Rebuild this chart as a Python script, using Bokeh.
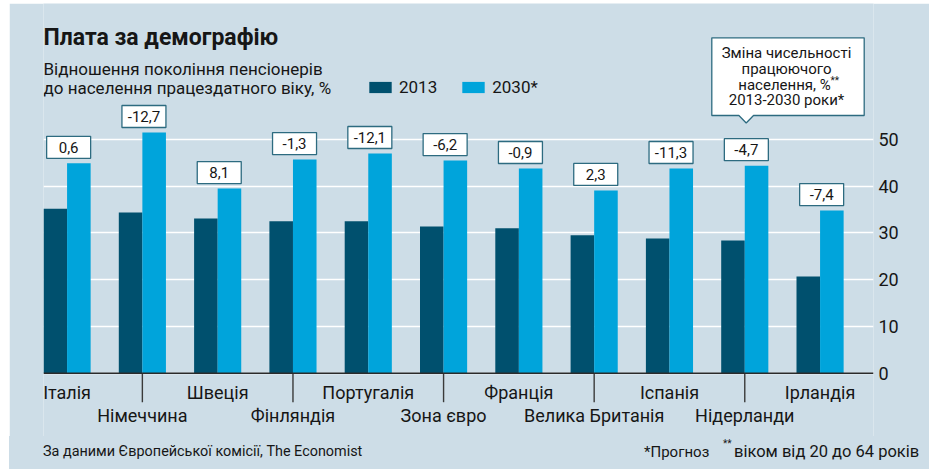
from bokeh.plotting import figure
from bokeh.layouts import column
from bokeh.models import Range1d, FixedTicker, Span, Label, Legend, LegendItem, ColumnDataSource, Div
from bokeh.transform import dodge
from bokeh.embed import file_html
from bokeh.resources import INLINE
from bokeh.core.properties import value

# ---------------- data ----------------
categories = ["Італія", "Німеччина", "Швеція", "Фінляндія", "Португалія", "Зона євро",
              "Франція", "Велика Британія", "Іспанія", "Нідерланди", "Ірландія"]
ratio_2013 = [35.2, 34.4, 33.1, 32.5, 32.5, 31.4, 31.0, 29.5, 28.8, 28.4, 20.7]
ratio_2030 = [44.9, 51.5, 39.5, 45.7, 47.0, 45.5, 43.8, 39.1, 43.8, 44.4, 34.8]
workforce_change = [0.6, -12.7, 8.1, -1.3, -12.1, -6.2, -0.9, 2.3, -11.3, -4.7, -7.4]
y_ticks = [0, 10, 20, 30, 40, 50]
series_names = ["2013", "2030*"]

# ---------------- style ----------------
BG = "#cddde7"
DARK = "#00506e"
LIGHT = "#00a4db"
INK = "#161616"
BOX_LINE = "#2d6b80"
FONT = "Roboto"

# page geometry (pixels)
LEFT, RIGHT = 43.0, 873.0
TOP, SPLIT, BOTTOM = 3.0, 436.0, 469.0
ZERO_PY = 372.7
PX_Y = (372.7 - 139.0) / 50.0
PX_X = 75.3
BAR_W = 0.313
xs0 = -BAR_W
xs1 = xs0 + (RIGHT - LEFT) / PX_X
ys1 = (ZERO_PY - TOP) / PX_Y
ys0 = (ZERO_PY - SPLIT) / PX_Y


def X(px):
    return xs0 + (px - LEFT) / PX_X


def Y(py):
    return (ZERO_PY - py) / PX_Y


n = len(categories)
src = ColumnDataSource(dict(
    idx=list(range(n)),
    cat=categories,
    v13=ratio_2013,
    v30=ratio_2030,
    chg=[("%.1f" % c).replace(".", ",") for c in workforce_change],
))

p = figure(width=920, height=int(SPLIT - TOP),
           x_range=Range1d(xs0, xs1), y_range=Range1d(ys0, ys1),
           output_backend="svg", toolbar_location=None,
           x_axis_location=None, y_axis_location="right",
           min_border_left=int(LEFT - 9), min_border_right=int(929 - RIGHT),
           min_border_top=0, min_border_bottom=0,
           background_fill_color=BG, border_fill_color=BG,
           outline_line_color=None)

# axis + grid
p.yaxis.ticker = FixedTicker(ticks=y_ticks)
p.yaxis.axis_line_color = None
p.yaxis.major_tick_line_color = None
p.yaxis.minor_tick_line_color = None
p.yaxis.major_tick_out = 0
p.yaxis.major_label_standoff = 5
p.yaxis.major_label_text_font = FONT
p.yaxis.major_label_text_font_size = "18px"
p.yaxis.major_label_text_color = INK
p.xgrid.visible = False
p.ygrid.ticker = FixedTicker(ticks=y_ticks)
p.ygrid.grid_line_color = "white"
p.ygrid.grid_line_width = 1.6

# bars
r13 = p.vbar(x=dodge("idx", -BAR_W / 2), top="v13", width=BAR_W, source=src,
             fill_color=DARK, line_color=None)
r30 = p.vbar(x=dodge("idx", BAR_W / 2), top="v30", width=BAR_W, source=src,
             fill_color=LIGHT, line_color=None)

p.add_layout(Span(location=0, dimension="width", line_color="#2a2a2a", line_width=1.5))

# value boxes
box_dx = BAR_W - 22.0 / PX_X
box_dy = 16.0 / PX_Y
p.rect(x=dodge("idx", box_dx), y=dodge("v30", box_dy), width=44, height=22,
       width_units="screen", height_units="screen", source=src,
       fill_color="white", line_color=BOX_LINE, line_width=1.3)
p.text(x=dodge("idx", box_dx), y=dodge("v30", box_dy), text="chg", source=src,
       text_align="center", text_baseline="middle",
       text_font=value(FONT), text_font_size="15px", text_color=INK)

# category labels, staggered
even = [i for i in range(n) if i % 2 == 0]
odd = [i for i in range(n) if i % 2 == 1]
p.text(x=even, y=[Y(392.0)] * len(even), text=[categories[i] for i in even],
       text_align="center", text_baseline="middle",
       text_font=value(FONT), text_font_size="18px", text_color=INK)
p.text(x=odd, y=[Y(414.7)] * len(odd), text=[categories[i] for i in odd],
       text_align="center", text_baseline="middle",
       text_font=value(FONT), text_font_size="18px", text_color=INK)
p.segment(x0=odd, y0=[0] * len(odd), x1=odd, y1=[Y(401.7)] * len(odd),
          line_color="#3a3a3a", line_width=1.4)

# legend
legend = Legend(items=[LegendItem(label=series_names[0], renderers=[r13]),
                       LegendItem(label=series_names[1], renderers=[r30])],
                orientation="horizontal", location=(366 - LEFT, SPLIT - 97),
                background_fill_alpha=0, border_line_color=None,
                padding=0, margin=0, spacing=22, label_standoff=5,
                glyph_width=28, glyph_height=14,
                label_text_font=FONT, label_text_font_size="17px",
                label_text_color=INK)
p.add_layout(legend)


def lab(px, py, text, size, bold=False, align="left"):
    p.add_layout(Label(x=X(px), y=Y(py), text=text, text_font=FONT,
                       text_font_size=size, text_color=INK,
                       text_font_style="bold" if bold else "normal",
                       text_align=align, text_baseline="middle"))


# titles
lab(43, 37.0, "Плата за демографію", "23px", bold=True)
lab(43, 68.0, "Відношення покоління пенсіонерів", "17px")
lab(43, 87.5, "до населення працездатного віку, %", "17px")

# callout box
cx = [711.3, 863.7, 863.7, 753.0, 745.7, 738.4, 711.3]
cy = [37.3, 37.3, 115.0, 115.0, 122.5, 115.0, 115.0]
p.patch(x=[X(v) for v in cx], y=[Y(v) for v in cy], fill_color="white",
        line_color=BOX_LINE, line_width=1.3)
lab(786, 52.7, "Зміна чисельності", "15px", align="center")
lab(786, 68.4, "працюючого", "15px", align="center")
lab(784, 84.1, "населення, %", "15px", align="center")
lab(830, 80.0, "**", "10px")
lab(786, 99.7, "2013-2030 роки*", "15px", align="center")

# ---------------- footer strip ----------------
span_css = "position:absolute;white-space:nowrap;"
footer_html = (
    f'<div style="position:relative;width:920px;height:33px;background:{BG};'
    f'font-family:Roboto,sans-serif;font-size:15px;line-height:18px;color:{INK};">'
    f'<span style="{span_css}left:34px;top:7px;font-size:14.4px;">За даними Європейської комісії, The Economist</span>'
    f'<span style="{span_css}left:635px;top:7px;">*Прогноз</span>'
    f'<span style="{span_css}left:714px;top:3px;font-size:10px;line-height:10px;">**</span>'
    f'<span style="{span_css}left:725px;top:6px;font-size:16.5px;line-height:19px;">віком від 20 до 64 років</span>'
    '</div>'
)
footer = Div(text=footer_html, width=920, height=int(BOTTOM - SPLIT), margin=0,
             styles={"background-color": BG, "padding": "0", "margin": "0"})

root = column(p, footer, spacing=0, margin=(3, 0, 0, 9))
open("out.html", "w").write(file_html(root, INLINE))
